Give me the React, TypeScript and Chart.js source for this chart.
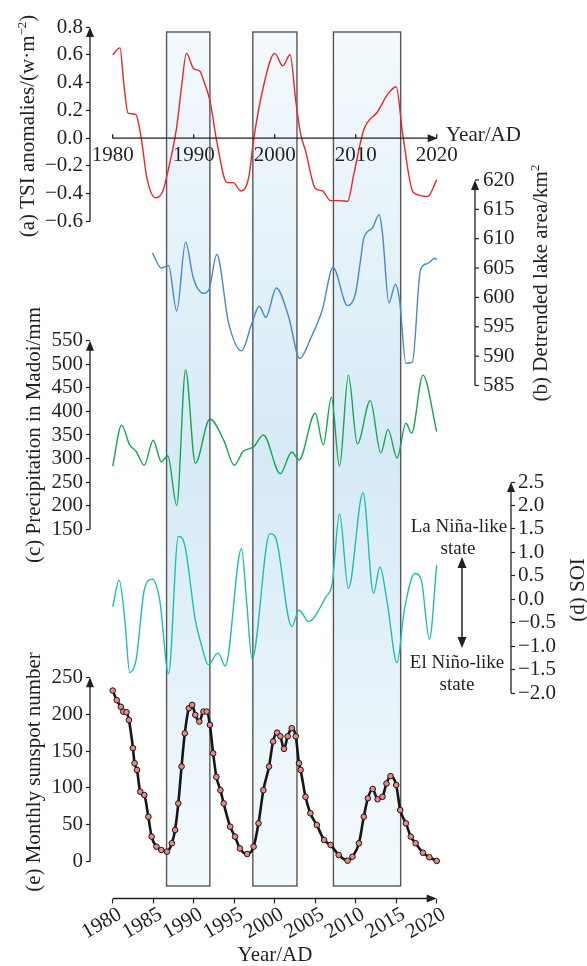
import React, { useEffect, useRef } from 'react';
import { Chart, registerables } from 'chart.js';

Chart.register(...registerables);

// ---------------- data ----------------
const tsiYears = [1980.0, 1980.9, 1981.36, 1981.9, 1982.85, 1983.55, 1984.2, 1985.3, 1986.2, 1986.85, 1987.9, 1988.5, 1989.1, 1990.0, 1990.8, 1991.25, 1992.0, 1992.9, 1994.1, 1994.9, 1995.8, 1996.8, 1997.4, 1998.6, 2000.0, 2001.0, 2001.9, 2002.6, 2003.2, 2003.8, 2005.0, 2005.9, 2006.9, 2008.1, 2009.0, 2009.8, 2011.0, 2012.7, 2014.0, 2015.0, 2015.8, 2017.1, 2018.9, 2020.0];
const tsiValues = [0.60, 0.65, 0.40, 0.18, 0.17, -0.01, -0.28, -0.43, -0.38, -0.23, 0.08, 0.37, 0.61, 0.50, 0.48, 0.41, 0.27, -0.04, -0.32, -0.32, -0.38, -0.28, -0.01, 0.37, 0.61, 0.52, 0.60, 0.27, 0.03, -0.09, -0.36, -0.38, -0.45, -0.45, -0.455, -0.25, 0.06, 0.19, 0.32, 0.37, 0.03, -0.39, -0.42, -0.30];

const lakeYears = [1984.9, 1986.0, 1986.9, 1987.9, 1989.0, 1989.95, 1991.2, 1991.9, 1992.85, 1994.3, 1995.9, 1997.2, 1998.1, 1998.9, 2000.2, 2001.7, 2003.1, 2004.4, 2005.9, 2007.2, 2009.0, 2010.0, 2010.6, 2011.0, 2012.05, 2012.9, 2013.3, 2014.1, 2014.9, 2015.4, 2016.2, 2017.0, 2018.0, 2018.9, 2019.8, 2020.0];
const lakeValues = [607.6, 605.0, 605.4, 597.7, 609.4, 603.3, 600.7, 601.4, 607.3, 595.7, 590.9, 595.7, 598.5, 596.6, 601.6, 596.8, 589.6, 592.9, 598.0, 605.1, 598.6, 600.8, 606.4, 610.1, 611.8, 614.1, 611.0, 599.1, 602.2, 599.7, 588.8, 589.0, 604.7, 605.8, 606.7, 606.4];

const precipYears = [1980.0, 1981.1, 1982.1, 1982.9, 1983.9, 1985.0, 1986.0, 1986.8, 1987.9, 1989.0, 1990.2, 1992.0, 1993.7, 1995.0, 1996.1, 1997.4, 1998.6, 2000.7, 2002.1, 2003.0, 2005.0, 2006.0, 2007.0, 2008.0, 2009.1, 2010.2, 2011.8, 2013.1, 2014.0, 2015.1, 2016.2, 2016.9, 2018.3, 2020.0];
const precipValues = [284, 371, 329, 315, 286, 339, 293, 306, 201, 488, 290, 384, 339, 286, 315, 325, 350, 268, 314, 297, 396, 329, 430, 284, 477, 331, 423, 312, 362, 301, 375, 354, 477, 357];

const soiYears = [1980.0, 1980.8, 1981.5, 1982.1, 1982.9, 1983.9, 1984.9, 1985.8, 1986.9, 1988.1, 1988.9, 1990.2, 1991.0, 1991.8, 1993.0, 1993.9, 1995.9, 1996.55, 1997.2, 1999.4, 2000.1, 2002.1, 2003.0, 2004.2, 2006.3, 2007.1, 2008.0, 2009.1, 2010.9, 2012.2, 2013.0, 2013.9, 2015.1, 2016.0, 2017.3, 2018.1, 2019.1, 2020.0];
const soiValues = [-0.16, 0.41, -0.44, -1.56, -1.28, 0.20, 0.43, -0.01, -1.58, 1.34, 1.15, -0.44, -1.0, -1.39, -1.14, -1.42, 1.08, -0.08, -1.27, 1.40, 1.32, -0.58, -0.23, -0.47, 0.05, 0.34, 1.82, 0.23, 2.27, 0.13, 0.69, -0.08, -1.35, -0.23, 0.55, 0.41, -0.85, 0.73];

const sunYears = [1980.0, 1980.5, 1981.0, 1981.3, 1981.7, 1982.0, 1982.5, 1982.7, 1983.0, 1983.4, 1983.9, 1984.4, 1984.8, 1985.4, 1986.0, 1986.7, 1987.3, 1987.7, 1988.1, 1988.5, 1988.9, 1989.4, 1989.8, 1990.2, 1990.7, 1991.2, 1991.6, 1992.0, 1992.4, 1992.8, 1993.3, 1993.7, 1994.5, 1995.1, 1995.7, 1996.6, 1997.4, 1998.0, 1998.6, 1999.3, 1999.8, 2000.3, 2000.7, 2001.15, 2001.6, 2002.1, 2002.6, 2003.0, 2003.2, 2003.8, 2004.4, 2005.2, 2006.1, 2006.9, 2007.9, 2009.0, 2009.6, 2010.4, 2011.0, 2011.5, 2012.1, 2012.7, 2013.3, 2013.8, 2014.3, 2015.0, 2015.5, 2016.2, 2016.8, 2017.4, 2018.3, 2019.1, 2020.0];
const sunValues = [232, 219, 210, 203.5, 202.7, 192, 154, 133.5, 124.4, 95, 90.5, 61, 34, 20.4, 15.9, 13.6, 25, 43, 79, 129, 174, 208, 212.6, 199, 190, 203.5, 203.5, 185.5, 147, 115, 97, 79, 47.5, 34, 18, 10.4, 20.4, 52, 97, 129, 163, 175, 170, 153, 170, 181, 170, 133.5, 124.4, 88, 65.7, 49.8, 29.4, 22.7, 9.1, 1.4, 6.8, 25, 61, 86, 98.6, 84.7, 88, 106, 116, 104, 70, 52, 34, 25, 12.2, 6, 1];

const yearTicks = [1980, 1985, 1990, 1995, 2000, 2005, 2010, 2015, 2020];
const tsiYearTicks = [1980, 1990, 2000, 2010, 2020];
const tsiTicks = [-0.6, -0.4, -0.2, 0, 0.2, 0.4, 0.6, 0.8];
const lakeTicks = [585, 590, 595, 600, 605, 610, 615, 620];
const precipTicks = [150, 200, 250, 300, 350, 400, 450, 500, 550];
const soiTicks = [-2, -1.5, -1, -0.5, 0, 0.5, 1, 1.5, 2, 2.5];
const sunTicks = [0, 50, 100, 150, 200, 250];
const bandStarts = [1986.65, 1997.3, 2007.25];
const bandEnds = [1992.0, 2002.75, 2015.55];

// ---------------- layout ----------------
const W = 587;
const H = 966;
const PL = 90; // left axes line
const PR = 511; // SOI axis line
const PT = 20;
const PB = 898.5;
const LAKE_X = 475; // lake axis line
const LAKE_LABEL_RIGHT = 514.5;
// left stack sections (pixel bounds)
const SEC1 = 280;
const SEC2 = 610;
const FONT = '"Liberation Serif", "Times New Roman", Times, serif';
const INK = '#231f20';

// value range of a scale so that two reference ticks land on given pixels
function rangeFor(vA: number, pA: number, vB: number, pB: number, p0: number, p1: number) {
  const k = (vB - vA) / (pB - pA);
  return [vA + (p0 - pA) * k, vA + (p1 - pA) * k];
}
const xAt = (px: number) => 1980 + ((px - 112.7) * 40) / (436.7 - 112.7);

const xRange = rangeFor(1980, 112.7, 2020, 436.7, PL, PR);
const tsiRange = rangeFor(0.8, 27, -0.6, 221.5, SEC1, PT);
const precipRange = rangeFor(550, 340.7, 150, 529.3, SEC2, SEC1);
const sunRange = rangeFor(250, 677.3, 0, 861.7, PB, SEC2);
const lakeRange = rangeFor(620, 180, 585, 385.5, PB, PT);
const soiRange = rangeFor(2.5, 482, -2, 693.3, PB, PT);

const dec1 = (v: number) => (v < 0 ? '\u2212' : '') + Math.abs(v).toFixed(1);
const int0 = (v: number) => String(Math.round(v));

function yScale(extra: any, ticks: number[], fmt: (v: number) => string, range: number[], width: number | null, pad: number, showTickMarks: boolean) {
  const sc: any = {
    type: 'linear',
    min: range[0],
    max: range[1],
    bounds: 'data',
    afterBuildTicks: (s: any) => {
      s.ticks = ticks.map((v) => ({ value: v }));
    },
    ticks: {
      autoSkip: false,
      callback: (v: any) => fmt(Number(v)),
      font: { family: FONT, size: 21 },
      color: INK,
      padding: pad,
    },
    grid: showTickMarks
      ? { display: true, drawOnChartArea: false, drawTicks: true, tickLength: 4, tickColor: INK, tickWidth: 1.2 }
      : { display: false, drawOnChartArea: false, drawTicks: false },
    border: { display: false },
    ...extra,
  };
  if (width !== null) {
    sc.afterFit = (s: any) => {
      s.width = width;
    };
  }
  return sc;
}

function arrowUp(ctx: CanvasRenderingContext2D, x: number, yTop: number, yBot: number) {
  ctx.beginPath();
  ctx.moveTo(x, yBot);
  ctx.lineTo(x, yTop + 6);
  ctx.stroke();
  ctx.beginPath();
  ctx.moveTo(x, yTop);
  ctx.lineTo(x - 4, yTop + 10);
  ctx.lineTo(x + 4, yTop + 10);
  ctx.closePath();
  ctx.fill();
}

function arrowRight(ctx: CanvasRenderingContext2D, xL: number, xTip: number, y: number) {
  ctx.beginPath();
  ctx.moveTo(xL, y);
  ctx.lineTo(xTip - 6, y);
  ctx.stroke();
  ctx.beginPath();
  ctx.moveTo(xTip, y);
  ctx.lineTo(xTip - 10, y - 4);
  ctx.lineTo(xTip - 10, y + 4);
  ctx.closePath();
  ctx.fill();
}

type Part = { t: string; sup?: boolean };
function drawVertical(ctx: CanvasRenderingContext2D, cx: number, cy: number, parts: Part[], size: number) {
  ctx.save();
  ctx.translate(cx, cy);
  ctx.rotate(-Math.PI / 2);
  const main = `${size}px ${FONT}`;
  const small = `${Math.round(size * 0.62)}px ${FONT}`;
  let total = 0;
  for (const p of parts) {
    ctx.font = p.sup ? small : main;
    total += ctx.measureText(p.t).width;
  }
  let x = -total / 2;
  ctx.textAlign = 'left';
  ctx.textBaseline = 'alphabetic';
  ctx.fillStyle = INK;
  const base = size * 0.33;
  for (const p of parts) {
    ctx.font = p.sup ? small : main;
    ctx.fillText(p.t, x, p.sup ? base - size * 0.4 : base);
    x += ctx.measureText(p.t).width;
  }
  ctx.restore();
}

function drawText(ctx: CanvasRenderingContext2D, t: string, x: number, y: number, size: number, align: CanvasTextAlign) {
  ctx.font = `${size}px ${FONT}`;
  ctx.fillStyle = INK;
  ctx.textAlign = align;
  ctx.textBaseline = 'middle';
  ctx.fillText(t, x, y);
}

const decorPlugin = {
  id: 'decor',
  beforeDatasetsDraw(chart: any) {
    const ctx: CanvasRenderingContext2D = chart.ctx;
    const xs = chart.scales.x;
    const top = chart.chartArea.top + 12;
    const bottom = chart.chartArea.bottom - 12.5;
    ctx.save();
    const g = ctx.createLinearGradient(0, top, 0, bottom);
    g.addColorStop(0, '#f4fafd');
    g.addColorStop(0.5, '#d6eaf6');
    g.addColorStop(1, '#f4fafd');
    for (let i = 0; i < bandStarts.length; i++) {
      const x0 = xs.getPixelForValue(bandStarts[i]);
      const x1 = xs.getPixelForValue(bandEnds[i]);
      ctx.fillStyle = g;
      ctx.fillRect(x0, top, x1 - x0, bottom - top);
      ctx.strokeStyle = '#565656';
      ctx.lineWidth = 1.4;
      ctx.strokeRect(x0, top, x1 - x0, bottom - top);
    }
    ctx.restore();
  },
  afterDraw(chart: any) {
    const ctx: CanvasRenderingContext2D = chart.ctx;
    const s = chart.scales;
    const xs = s.x;
    ctx.save();
    ctx.strokeStyle = INK;
    ctx.fillStyle = INK;
    ctx.lineWidth = 1.3;

    // vertical axes with arrows
    arrowUp(ctx, s.yTsi.right, s.yTsi.getPixelForValue(0.8), s.yTsi.getPixelForValue(-0.6));
    arrowUp(ctx, s.yPrec.right, s.yPrec.getPixelForValue(550), s.yPrec.getPixelForValue(150));
    arrowUp(ctx, s.ySun.right, s.ySun.getPixelForValue(250), s.ySun.getPixelForValue(0));
    arrowUp(ctx, LAKE_X, s.yLake.getPixelForValue(620), s.yLake.getPixelForValue(585));
    arrowUp(ctx, s.ySoi.left, s.ySoi.getPixelForValue(2.5), s.ySoi.getPixelForValue(-2));
    // lake tick marks (labels come from the scale)
    ctx.lineWidth = 1.2;
    for (const v of lakeTicks) {
      const py = s.yLake.getPixelForValue(v);
      ctx.beginPath();
      ctx.moveTo(LAKE_X, py);
      ctx.lineTo(LAKE_X + 4, py);
      ctx.stroke();
    }
    ctx.lineWidth = 1.3;

    // bottom time axis
    arrowRight(ctx, xs.getPixelForValue(1980), xs.getPixelForValue(2020), xs.top);

    // TSI inner time axis
    const y0 = s.yTsi.getPixelForValue(0);
    arrowRight(ctx, xs.getPixelForValue(1980), xs.getPixelForValue(2020) + 1, y0);
    for (const yr of tsiYearTicks) {
      const px = xs.getPixelForValue(yr);
      ctx.beginPath();
      ctx.moveTo(px, y0);
      ctx.lineTo(px, y0 - 4);
      ctx.stroke();
      drawText(ctx, String(yr), px, y0 + 17, 21, 'center');
    }
    drawText(ctx, 'Year/AD', 446, y0 - 3, 21, 'left');
    drawText(ctx, 'Year/AD', 275, 955, 21, 'center');

    // axis titles
    drawVertical(ctx, 27, 126, [{ t: '(a) TSI anomalies/(w\u00b7m' }, { t: '\u22122', sup: true }, { t: ')' }], 21);
    drawVertical(ctx, 540, 283, [{ t: '(b) Detrended lake area/km' }, { t: '2', sup: true }], 21);
    drawVertical(ctx, 33, 435, [{ t: '(c) Precipitation in Madoi/mm' }], 21);
    drawVertical(ctx, 577, 590, [{ t: '(d) SOI' }], 21);
    drawVertical(ctx, 33, 772, [{ t: '(e) Monthly sunspot number' }], 21);

    // ENSO annotation
    drawText(ctx, 'La Ni\u00f1a-like', 459, 527, 19, 'center');
    drawText(ctx, 'state', 458, 549, 19, 'center');
    drawText(ctx, 'El Ni\u00f1o-like', 457, 663, 19, 'center');
    drawText(ctx, 'state', 457, 685, 19, 'center');
    const ax = 462;
    const aTop = 557;
    const aBot = 648;
    ctx.lineWidth = 1.5;
    ctx.beginPath();
    ctx.moveTo(ax, aTop + 8);
    ctx.lineTo(ax, aBot - 8);
    ctx.stroke();
    ctx.beginPath();
    ctx.moveTo(ax, aTop);
    ctx.lineTo(ax - 4.5, aTop + 11);
    ctx.lineTo(ax + 4.5, aTop + 11);
    ctx.closePath();
    ctx.fill();
    ctx.beginPath();
    ctx.moveTo(ax, aBot);
    ctx.lineTo(ax - 4.5, aBot - 11);
    ctx.lineTo(ax + 4.5, aBot - 11);
    ctx.closePath();
    ctx.fill();
    ctx.restore();
  },
};

const toPoints = (xs: number[], ys: number[]) => xs.map((x, i) => ({ x, y: ys[i] }));

export default function App() {
  const ref = useRef<HTMLCanvasElement>(null);
  useEffect(() => {
    if (!ref.current) return;
    const lineBase = { pointRadius: 0, borderWidth: 1.4, fill: false, cubicInterpolationMode: 'monotone' };
    const chart = new Chart(ref.current, {
      type: 'line',
      data: {
        datasets: [
          { ...lineBase, label: 'TSI', data: toPoints(tsiYears, tsiValues), yAxisID: 'yTsi', borderColor: '#e8262b' },
          { ...lineBase, label: 'Lake', data: toPoints(lakeYears, lakeValues), yAxisID: 'yLake', borderColor: '#4a88c9' },
          { ...lineBase, label: 'Precip', data: toPoints(precipYears, precipValues), yAxisID: 'yPrec', borderColor: '#14a650' },
          { ...lineBase, label: 'SOI', data: toPoints(soiYears, soiValues), yAxisID: 'ySoi', borderColor: '#1fbfb0' },
          {
            label: 'Sunspot',
            data: toPoints(sunYears, sunValues),
            yAxisID: 'ySun',
            borderColor: '#161616',
            borderWidth: 2.6,
            cubicInterpolationMode: 'monotone',
            fill: false,
            pointRadius: 2.8,
            pointBackgroundColor: '#f08585',
            pointBorderColor: '#161616',
            pointBorderWidth: 1,
          },
        ] as any,
      },
      options: {
        animation: false,
        responsive: false,
        devicePixelRatio: 1,
        layout: { padding: { top: PT, left: 0, right: 0, bottom: 0 } },
        plugins: { legend: { display: false }, tooltip: { enabled: false } },
        events: [],
        scales: {
          x: {
            type: 'linear',
            position: 'bottom',
            min: xRange[0],
            max: xRange[1],
            bounds: 'data',
            afterBuildTicks: (sc: any) => {
              sc.ticks = yearTicks.map((v) => ({ value: v }));
            },
            afterFit: (sc: any) => {
              sc.height = H - PB;
            },
            ticks: {
              autoSkip: false,
              minRotation: 30,
              maxRotation: 30,
              callback: (v: any) => String(v),
              font: { family: FONT, size: 21 },
              color: INK,
              padding: -1.5,
              labelOffset: 7.5,
            },
            grid: { display: true, drawOnChartArea: false, drawTicks: true, tickLength: 5, tickColor: INK, tickWidth: 1.2 },
            border: { display: false },
          },
          yTsi: yScale({ position: 'left', weight: 3, stack: 'L', stackWeight: SEC1 - PT }, tsiTicks, dec1, tsiRange, PL, 3, true),
          yPrec: yScale({ position: 'left', weight: 2, stack: 'L', stackWeight: SEC2 - SEC1 }, precipTicks, int0, precipRange, PL, 3, true),
          ySun: yScale({ position: 'left', weight: 1, stack: 'L', stackWeight: PB - SEC2 }, sunTicks, int0, sunRange, PL, 3, true),
          yLake: yScale({ position: { x: xAt(LAKE_LABEL_RIGHT) } }, lakeTicks, int0, lakeRange, null, 0, false),
          ySoi: yScale({ position: 'right', weight: 1 }, soiTicks, dec1, soiRange, W - PR, 3, true),
        } as any,
      },
      plugins: [decorPlugin],
    } as any);
    return () => chart.destroy();
  }, []);
  return (
    <div style={{ position: 'absolute', left: 0, top: 0, width: W, height: H, background: '#ffffff' }}>
      <canvas ref={ref} width={W} height={H} style={{ display: 'block', width: W, height: H }} />
    </div>
  );
}
